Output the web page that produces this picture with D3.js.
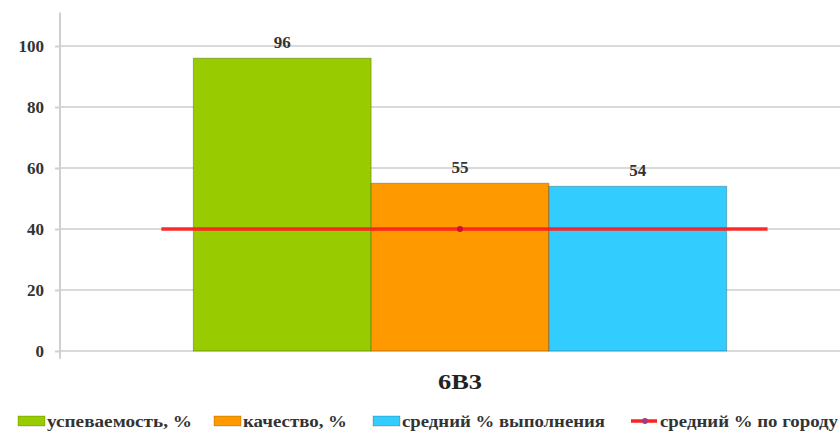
<!DOCTYPE html>
<html><head><meta charset="utf-8">
<script src="https://cdn.jsdelivr.net/npm/d3@7"></script>
<style>body{margin:0;background:#fff} svg text{font-family:'Liberation Serif';font-weight:bold}</style>
</head><body>
<script>
const categories = ["6В3"];
const seriesNames = ["успеваемость, %", "качество, %", "средний % выполнения"];
const seriesValues = [96, 55, 54];
const seriesColors = ["#99cc00", "#ff9900", "#33ccff"];
const cityAvgName = "средний % по городу";
const cityAvg = [40];
const yTicks = [0, 20, 40, 60, 80, 100];

const W = 840, H = 434;
const svg = d3.select("body").append("svg").attr("width", W).attr("height", H);
const textCol = "#333";
function styleText(sel, size) {
  return sel.style("font-family", "'Liberation Serif'").style("font-weight", "bold")
    .style("font-size", size + "px").attr("fill", textCol);
}

const x = d3.scaleBand().domain(categories).range([60, 860]).paddingInner(0).paddingOuter(0);
const y = d3.scaleLinear().domain([0, 100]).range([351, 46]);
const sub = d3.scaleBand().domain(seriesNames).range([0, x.bandwidth()]).paddingOuter(0.75).paddingInner(0);

// grid
svg.append("g").selectAll("line").data(yTicks).join("line")
  .attr("x1", 60).attr("x2", W).attr("y1", d => y(d)).attr("y2", d => y(d))
  .attr("stroke", "#d9d9d9").attr("stroke-width", 2);
// y axis
svg.append("line").attr("x1", 60).attr("x2", 60).attr("y1", y(111)).attr("y2", y(-2.5))
  .attr("stroke", "#d0d0d0").attr("stroke-width", 2);
const yAxis = d3.axisLeft(y).tickValues(yTicks).tickSize(5).tickPadding(11);
const ga = svg.append("g").attr("transform", "translate(60,0)").call(yAxis);
ga.attr("font-family", null);
ga.select(".domain").remove();
ga.selectAll(".tick line").attr("stroke", "#d0d0d0").attr("stroke-width", 2);
styleText(ga.selectAll("text"), 17).attr("dy", "0.35em");

// bars
categories.forEach(c => {
  const g = svg.append("g").attr("transform", `translate(${x(c)},0)`);
  g.selectAll("rect").data(seriesNames).join("rect")
    .attr("x", d => sub(d)).attr("width", sub.bandwidth())
    .attr("y", (d, i) => y(seriesValues[i])).attr("height", (d, i) => y(0) - y(seriesValues[i]))
    .attr("fill", (d, i) => seriesColors[i]).attr("stroke", "rgba(0,0,0,0.25)").attr("stroke-width", 1);
  styleText(g.selectAll("text.v").data(seriesNames).join("text").attr("class", "v"), 17)
    .attr("x", d => sub(d) + sub.bandwidth() / 2).attr("y", (d, i) => y(seriesValues[i]) - 10)
    .attr("text-anchor", "middle").text((d, i) => seriesValues[i]);
  styleText(svg.append("text"), 22).attr("fill", "#222")
    .attr("x", x(c) + x.bandwidth() / 2).attr("y", 389)
    .attr("text-anchor", "middle").attr("textLength", 44).attr("lengthAdjust", "spacingAndGlyphs").text(c);
});

// city average line
const lineX0 = x(categories[0]) + sub.step() * 0.57;
const lineX1 = x(categories[0]) + x.bandwidth() - sub.step() * 0.52;
svg.append("line").attr("x1", lineX0).attr("x2", lineX1)
  .attr("y1", y(cityAvg[0])).attr("y2", y(cityAvg[0]))
  .attr("stroke", "#ff2020").attr("stroke-width", 3.5).attr("opacity", 0.95);
svg.append("circle").attr("cx", x(categories[0]) + x.bandwidth() / 2).attr("cy", y(cityAvg[0]))
  .attr("r", 3).attr("fill", "#cc1030");

// legend
const legItems = [
  {name: seriesNames[0], color: seriesColors[0], x: 18, len: 145},
  {name: seriesNames[1], color: seriesColors[1], x: 214, len: 104},
  {name: seriesNames[2], color: seriesColors[2], x: 373, len: 203},
];
const ly = 421;
legItems.forEach(it => {
  svg.append("rect").attr("x", it.x).attr("y", ly - 5).attr("width", 27).attr("height", 10)
    .attr("fill", it.color).attr("stroke", "rgba(0,0,0,0.2)");
  styleText(svg.append("text"), 16).attr("x", it.x + 29).attr("y", ly + 6)
    .attr("textLength", it.len).attr("lengthAdjust", "spacingAndGlyphs").text(it.name);
});
svg.append("line").attr("x1", 631).attr("x2", 657).attr("y1", ly).attr("y2", ly)
  .attr("stroke", "#ff2020").attr("stroke-width", 3.5);
svg.append("circle").attr("cx", 645).attr("cy", ly).attr("r", 3).attr("fill", "#9a4080");
styleText(svg.append("text"), 16).attr("x", 660).attr("y", ly + 6)
  .attr("textLength", 178).attr("lengthAdjust", "spacingAndGlyphs").text(cityAvgName);
</script>
</body></html>
